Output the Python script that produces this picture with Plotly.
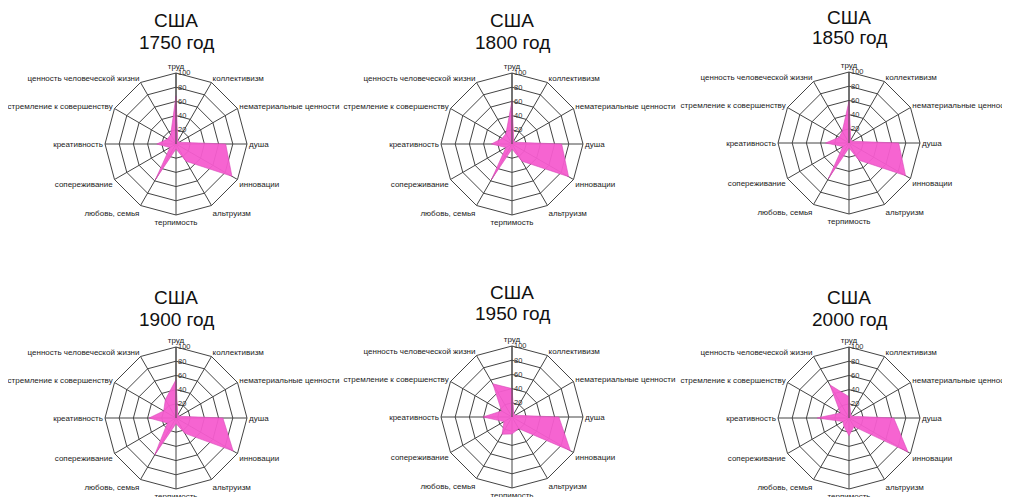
import plotly.graph_objects as go

categories = ["труд", "коллективизм", "нематериальные ценности", "душа", "инновации",
              "альтруизм", "терпимость", "любовь, семья", "сопереживание", "креативность",
              "стремление к совершенству", "ценность человеческой жизни"]

country = "США"
years = ["1750 год", "1800 год", "1850 год", "1900 год", "1950 год", "2000 год"]

values_1750 = [68, 5, 5, 70, 91, 28, 7, 58, 10, 27, 14, 15]
values_1800 = [61, 5, 5, 70, 92, 28, 7, 58, 10, 29, 16, 17]
values_1850 = [59, 5, 5, 70, 92, 28, 7, 58, 10, 33, 16, 19]
values_1900 = [54, 5, 5, 66, 93, 25, 8, 60, 14, 38, 20, 30]
values_1950 = [40, 5, 5, 66, 95, 19, 24, 28, 13, 41, 17, 54]
values_2000 = [30, 5, 5, 63, 96, 14, 25, 14, 10, 45, 14, 54]

radial_ticks = [20, 40, 60, 80, 100]

all_values = [values_1750, values_1800, values_1850, values_1900, values_1950, values_2000]

W, H = 1010, 497
OFF = 8  # page body margin
centers = [(176, 144), (512, 144), (849, 143), (176, 418), (512, 417), (849, 418)]
title1_y = [20, 20, 17, 297, 292, 297]
title2_y = [42, 42, 38, 319, 313, 319]
R = 71

fig = go.Figure()
layout_kw = {}
annotations = []
for i, (vals, (cx, cy)) in enumerate(zip(all_values, centers)):
    cx -= OFF
    cy -= OFF
    pid = "polar" if i == 0 else f"polar{i+1}"
    fig.add_trace(go.Scatterpolar(
        r=vals + [vals[0]], theta=categories + [categories[0]],
        fill="toself", mode="lines",
        line=dict(color="#d94bb8", width=0.6),
        fillcolor="rgba(245,92,207,0.95)",
        subplot=pid, showlegend=False, hoverinfo="r+theta"))
    layout_kw[pid] = dict(
        domain=dict(x=[(cx - R) / W, (cx + R) / W], y=[1 - (cy + R) / H, 1 - (cy - R) / H]),
        bgcolor="white",
        gridshape="linear",
        angularaxis=dict(direction="clockwise", rotation=90, categoryorder="array",
                         categoryarray=categories,
                         tickfont=dict(size=8, color="#222", family="Liberation Sans, Arial"),
                         gridcolor="#444", gridwidth=1, linecolor="#444", linewidth=1,
                         showline=True, ticks=""),
        radialaxis=dict(range=[0, 100], tickvals=radial_ticks, angle=90, tickangle=90,
                        tickfont=dict(size=7.5, color="#333", family="Liberation Sans, Arial"),
                        gridcolor="#444", gridwidth=1, showline=True, linecolor="#444",
                        linewidth=1, ticks=""),
    )
    for txt, ty in ((country, title1_y[i]), (years[i], title2_y[i])):
        annotations.append(dict(text=txt, x=cx / W, y=1 - (ty - OFF) / H,
                                xref="paper", yref="paper", showarrow=False,
                                font=dict(size=19, color="#111", family="Liberation Sans, Arial"),
                                xanchor="center", yanchor="middle"))

fig.update_layout(width=W, height=H, margin=dict(l=0, r=0, t=0, b=0),
                  paper_bgcolor="white", plot_bgcolor="white",
                  annotations=annotations, **layout_kw)
fig.write_html("out.html")
